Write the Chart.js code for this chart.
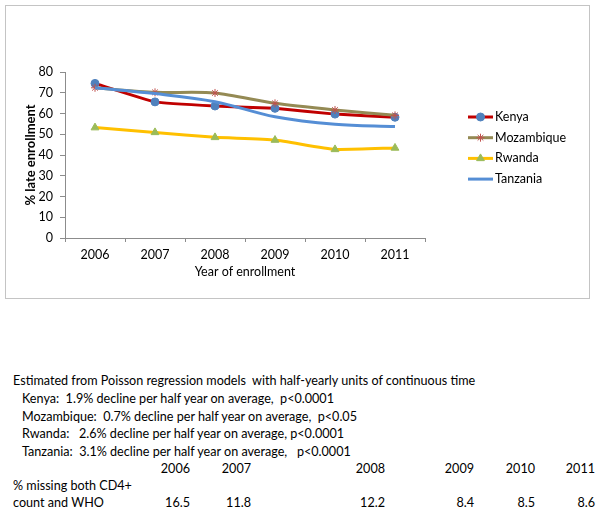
<!DOCTYPE html>
<html>
<head>
<meta charset="utf-8">
<script src="https://cdn.jsdelivr.net/npm/chart.js@4"></script>
<style>
  body { margin: 0; background: #fff; font-family: Lato, "Open Sans", sans-serif; color: #000; }
  #wrap { position: relative; width: 600px; height: 511px; overflow: hidden; }
  #frame { position: absolute; left: 5px; top: 5px; width: 583px; height: 292px; border: 1px solid #c4c4c4; }
  canvas { position: absolute; left: 0; top: 0; }
  .txt { position: absolute; font-size: 12.6px; white-space: pre; line-height: 14px; }
  .num { text-align: right; }
</style>
</head>
<body>
<div id="wrap">
  <div id="frame"></div>
  <canvas id="chart" width="600" height="300"></canvas>
  <div id="notes"></div>
</div>
<script>
// chart data
const years = ['2006', '2007', '2008', '2009', '2010', '2011'];
const kenya = [74.5, 65.6, 63.6, 62.5, 59.7, 58.2];
const mozambique = [72.4, 70.2, 69.9, 64.9, 61.7, 59.1];
const rwanda = [53.2, 50.9, 48.5, 47.2, 42.7, 43.4];
const tanzania = [72.4, 69.6, 65.7, 58.4, 54.8, 53.7];

// text under the chart
const noteHead = 'Estimated from Poisson regression models  with half-yearly units of continuous time';
const noteLines = [
  'Kenya:  1.9% decline per half year on average,  p<0.0001',
  'Mozambique:  0.7% decline per half year on average,  p<0.05',
  'Rwanda:   2.6% decline per half year on average, p<0.0001',
  'Tanzania:  3.1% decline per half year on average,   p<0.0001'
];
const missingLabel = ['% missing both CD4+', 'count and WHO'];
const missingBoth = [16.5, 11.8, 12.2, 8.4, 8.5, 8.6];

const axisColor = '#8c8c8c';
const fontFamily = 'Lato, "Open Sans", sans-serif';

// excel-like legend: short line with the marker in the middle
const legendPlugin = {
  id: 'sideLegend',
  afterDraw(chart) {
    const ctx = chart.ctx;
    const x0 = 468, x1 = 493, top = 117, step = 20.7;
    ctx.save();
    chart.data.datasets.forEach((ds, i) => {
      const y = top + i * step;
      ctx.strokeStyle = ds.borderColor;
      ctx.lineWidth = ds.borderWidth;
      ctx.beginPath();
      ctx.moveTo(x0, y);
      ctx.lineTo(x1, y);
      ctx.stroke();
      if (ds.pointRadius > 0) {
        ctx.fillStyle = ds.pointBackgroundColor;
        ctx.strokeStyle = ds.pointBorderColor;
        ctx.lineWidth = ds.pointBorderWidth;
        Chart.helpers.drawPoint(ctx, {
          pointStyle: ds.pointStyle,
          radius: ds.pointRadius,
          borderWidth: ds.pointBorderWidth
        }, (x0 + x1) / 2, y);
      }
      ctx.fillStyle = '#000';
      ctx.font = '12.5px ' + fontFamily;
      ctx.textBaseline = 'middle';
      ctx.textAlign = 'left';
      ctx.fillText(ds.label, x1 + 2, y);
    });
    ctx.restore();
  }
};

new Chart(document.getElementById('chart'), {
  type: 'line',
  data: {
    labels: years,
    datasets: [
      {
        label: 'Kenya', data: kenya, order: 4,
        borderColor: '#c00000', borderWidth: 3, tension: 0.1,
        pointStyle: 'circle', pointRadius: 4, pointBorderWidth: 1,
        pointBackgroundColor: '#4f81bd', pointBorderColor: '#4f81bd'
      },
      {
        label: 'Mozambique', data: mozambique, order: 3,
        borderColor: '#948a54', borderWidth: 3, tension: 0.25,
        pointStyle: 'star', pointRadius: 4, pointBorderWidth: 1,
        pointBackgroundColor: '#c0504d', pointBorderColor: '#c0504d'
      },
      {
        label: 'Rwanda', data: rwanda, order: 2,
        borderColor: '#ffc000', borderWidth: 3, tension: 0.15,
        pointStyle: 'triangle', pointRadius: 4.5, pointBorderWidth: 1,
        pointBackgroundColor: '#9bbb59', pointBorderColor: '#9bbb59'
      },
      {
        label: 'Tanzania', data: tanzania, order: 1,
        borderColor: '#558ed5', borderWidth: 3, tension: 0.35,
        pointRadius: 0, pointBorderWidth: 0,
        pointBackgroundColor: '#558ed5', pointBorderColor: '#558ed5'
      }
    ]
  },
  options: {
    responsive: false,
    animation: false,
    events: [],
    layout: { padding: { left: 23, right: 175, top: 72, bottom: 12 } },
    plugins: { legend: { display: false }, tooltip: { enabled: false } },
    scales: {
      x: {
        offset: true,
        afterFit(scale) { scale.height = 50; },
        grid: { offset: true, drawOnChartArea: false, drawTicks: true, tickLength: 4, color: axisColor },
        border: { display: true, color: axisColor },
        ticks: { color: '#000', padding: 5, font: { family: fontFamily, size: 12.5 } },
        title: {
          display: true, text: 'Year of enrollment', color: '#000',
          padding: { top: 0, bottom: 9 }, font: { family: fontFamily, size: 12.5 }
        }
      },
      y: {
        min: 0, max: 80,
        afterFit(scale) { scale.width = 42; },
        grid: { drawOnChartArea: false, drawTicks: true, tickLength: 5, color: axisColor },
        border: { display: true, color: axisColor },
        ticks: { stepSize: 10, color: '#000', padding: 7, font: { family: fontFamily, size: 12.5 } },
        title: {
          display: true, text: '% late enrollment', color: '#000',
          padding: { top: 0, bottom: 0 }, font: { family: fontFamily, size: 13, weight: 'bold' }
        }
      }
    }
  },
  plugins: [legendPlugin]
});

// notes below the chart as plain text
const notes = document.getElementById('notes');
function addText(str, left, centerY, rightEdge) {
  const d = document.createElement('div');
  d.className = 'txt';
  d.textContent = str;
  d.style.top = (centerY - 7) + 'px';
  if (rightEdge !== undefined) {
    d.classList.add('num');
    d.style.right = (600 - rightEdge) + 'px';
  } else {
    d.style.left = left + 'px';
  }
  notes.appendChild(d);
}
const colRight = [190, 251, 385, 474, 535, 595];
addText(noteHead, 13, 381);
noteLines.forEach((s, i) => addText(s, 22, 399 + i * 17.6));
years.forEach((y, i) => addText(y, 0, 469, colRight[i]));
addText(missingLabel[0], 13, 486);
addText(missingLabel[1], 13, 503);
missingBoth.forEach((v, i) => addText(v.toFixed(1), 0, 503, colRight[i]));
</script>
</body>
</html>
